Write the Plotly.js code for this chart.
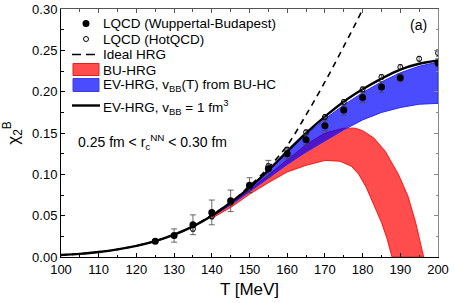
<!DOCTYPE html>
<html>
<head>
<meta charset="utf-8">
<script src="https://cdn.plot.ly/plotly-3.0.1.min.js"></script>
<style>html,body{margin:0;padding:0;background:#fff;}#chart{width:454px;height:303px;}</style>
</head>
<body>
<div id="chart"></div>
<script>
// Lattice QCD, Wuppertal-Budapest (filled)
var wbT = [125,130,135,140,145,150,155,160,165,170,175,180,185,190,200];
var wbChi = [0.019,0.026,0.039,0.054,0.068,0.087,0.107,0.125,0.142,0.159,0.178,0.193,0.206,0.217,0.235];
var wbErr = [0.002,0.008,0.012,0.015,0.013,0.009,0.010,0.006,0.006,0.006,0.006,0.006,0.0065,0.005,0.005];
// Lattice QCD, HotQCD (open)
var hqT = [135,140,145,150,155,160,165,170,175,180,185,190,195,200];
var hqChi = [0.034,0.049,0.066,0.085,0.110,0.130,0.151,0.1695,0.1876,0.203,0.218,0.230,0.240,0.247];
var hqErr = [0.003,0.003,0.003,0.003,0.003,0.003,0.003,0.003,0.003,0.003,0.003,0.003,0.003,0.004];
// Ideal HRG
var idT = [100,105,110,115,120,125,130,135,140,145,150,155,160,165,170,175,180,182];
var idChi = [0.0025,0.0038,0.006,0.0092,0.0135,0.0192,0.027,0.037,0.051,0.066,0.086,0.108,0.135,0.172,0.212,0.255,0.300,0.322];
// EV-HRG, v_BB = 1 fm^3
var evT = [100,105,110,115,120,125,130,135,140,145,150,155,160,165,170,175,180,185,190,195,200];
var evChi = [0.0025,0.0038,0.006,0.0092,0.0135,0.0192,0.027,0.037,0.050,0.066,0.084,0.105,0.128,0.150,0.170,0.188,0.203,0.216,0.227,0.234,0.238];
// EV-HRG, v_BB(T) from BU-HC band
var blueT = [140,145,150,155,160,165,170,175,180,185,190,195,200];
var blueUp = [0.050,0.066,0.084,0.105,0.127,0.148,0.167,0.184,0.199,0.212,0.223,0.231,0.236];
var blueLo = [0.049,0.063,0.079,0.095,0.112,0.127,0.141,0.154,0.166,0.175,0.181,0.185,0.186];
// BU-HRG band
var redUpT = [140,145,150,155,160,165,170,175,178,180,183,186,189.5,192,194,196.2];
var redUp = [0.049,0.064,0.081,0.099,0.118,0.136,0.150,0.156,0.156,0.153,0.144,0.128,0.100,0.074,0.043,0.0];
var redLoT = [140,145,150,155,160,165,170,174,177,179,181,183,185,186.5,187.8];
var redLo = [0.047,0.060,0.076,0.090,0.103,0.111,0.117,0.116,0.110,0.100,0.084,0.064,0.042,0.022,0.0];
// Ticks
var xTicks = [100,110,120,130,140,150,160,170,180,190,200];
var yTicks = [0.00,0.05,0.10,0.15,0.20,0.25,0.30];
var yTickText = ['0.00','0.05','0.10','0.15','0.20','0.25','0.30'];
// Legend labels
var legendLabels = ['LQCD (Wuppertal-Budapest)', 'LQCD (HotQCD)', 'Ideal HRG', 'BU-HRG',
                    'EV-HRG, v<sub>BB</sub>(T) from BU-HC', 'EV-HRG, v<sub>BB</sub> = 1 fm<sup>3</sup>'];

function poly(xa, ya, xb, yb) {
  return {x: xa.concat(xb.slice().reverse()), y: ya.concat(yb.slice().reverse())};
}
var redP = poly(redUpT, redUp, redLoT, redLo);
var blueP = poly(blueT, blueUp, blueT, blueLo);

var W = 454, H = 303, ML = 61, MR = 16, MT = 9, MB = 46;
var PW = W - ML - MR, PH = H - MT - MB;
function px(x) { return (x - ML) / PW; }
function py(y) { return (H - MB - y) / PH; }

var FONT = 'Liberation Sans, Arial, sans-serif';
var RED_FILL = 'rgba(255,0,0,0.7)', BLUE_FILL = 'rgba(0,0,255,0.7)';
var traces = [
  {x: redP.x, y: redP.y, type: 'scatter', mode: 'lines', fill: 'toself',
   fillcolor: RED_FILL, line: {color: 'rgb(255,20,20)', width: 1}, name: legendLabels[3], showlegend: false},
  {x: blueP.x, y: blueP.y, type: 'scatter', mode: 'lines', fill: 'toself',
   fillcolor: BLUE_FILL, line: {color: 'rgb(40,40,255)', width: 1}, name: legendLabels[4], showlegend: false},
  {x: idT, y: idChi, type: 'scatter', mode: 'lines', line: {color: '#000', width: 1.6, dash: '6px,5px', shape: 'spline'},
   name: legendLabels[2], showlegend: false},
  {x: evT, y: evChi, type: 'scatter', mode: 'lines', line: {color: '#000', width: 2.4, shape: 'spline'},
   name: legendLabels[5], showlegend: false},
  {x: hqT, y: hqChi, type: 'scatter', mode: 'markers',
   marker: {symbol: 'circle-open', size: 5, color: '#000', line: {width: 1}},
   error_y: {type: 'data', array: hqErr, color: '#444', thickness: 0.8, width: 2},
   name: legendLabels[1], showlegend: false},
  {x: wbT, y: wbChi, type: 'scatter', mode: 'markers',
   marker: {symbol: 'circle', size: 7, color: '#000'},
   error_y: {type: 'data', array: wbErr, color: '#444', thickness: 0.8, width: 3},
   name: legendLabels[0], showlegend: false},
  {x: [100], y: [-1], xaxis: 'x2', yaxis: 'y2', type: 'scatter', mode: 'markers', showlegend: false,
   hoverinfo: 'skip', marker: {opacity: 0}}
];

// hand-placed legend (swatches + labels)
var rowY = [23.5, 39, 54.5, 70, 86, 106.5];
var shapes = [
  {type: 'circle', xref: 'paper', yref: 'paper', xsizemode: 'pixel', ysizemode: 'pixel',
   xanchor: px(86), yanchor: py(rowY[0]), x0: -3.5, x1: 3.5, y0: -3.5, y1: 3.5,
   fillcolor: '#000', line: {color: '#000', width: 0}},
  {type: 'circle', xref: 'paper', yref: 'paper', xsizemode: 'pixel', ysizemode: 'pixel',
   xanchor: px(86), yanchor: py(rowY[1]), x0: -2.5, x1: 2.5, y0: -2.5, y1: 2.5,
   fillcolor: '#fff', line: {color: '#000', width: 1}},
  {type: 'line', xref: 'paper', yref: 'paper', x0: px(72), x1: px(100), y0: py(rowY[2]), y1: py(rowY[2]),
   line: {color: '#000', width: 1.6, dash: '9px,5px'}},
  {type: 'rect', xref: 'paper', yref: 'paper', x0: px(73), x1: px(99), y0: py(63.5), y1: py(75.5),
   fillcolor: RED_FILL, line: {color: 'rgb(230,30,30)', width: 1}},
  {type: 'rect', xref: 'paper', yref: 'paper', x0: px(73), x1: px(99), y0: py(78.5), y1: py(91.5),
   fillcolor: BLUE_FILL, line: {color: 'rgb(60,60,230)', width: 1}},
  {type: 'line', xref: 'paper', yref: 'paper', x0: px(72), x1: px(100), y0: py(105.5), y1: py(105.5),
   line: {color: '#000', width: 2.4}}
];

var annotations = [
  {xref: 'paper', yref: 'paper', x: px(418.5), y: py(25), text: '(a)', showarrow: false,
   font: {family: FONT, size: 14}, xanchor: 'center', yanchor: 'middle'},
  {xref: 'paper', yref: 'paper', x: px(76), y: py(142), text: '0.25 fm < r<sub>c</sub><sup>NN</sup> < 0.30 fm', showarrow: false,
   font: {family: FONT, size: 14}, xanchor: 'left', yanchor: 'middle'}
];
legendLabels.forEach(function (t, i) {
  annotations.push({xref: 'paper', yref: 'paper', x: px(102), y: py(rowY[i]), text: t, showarrow: false,
    font: {family: FONT, size: 13.5}, xanchor: 'left', yanchor: 'middle', borderpad: 0});
});

var layout = {
  width: W, height: H,
  margin: {l: ML, r: MR, t: MT, b: MB},
  paper_bgcolor: '#fff', plot_bgcolor: '#fff',
  font: {family: FONT, color: '#000', size: 12},
  showlegend: false,
  xaxis: {range: [100, 200], tickvals: xTicks, ticks: 'inside', ticklen: 4, tickcolor: '#000',
          minor: {dtick: 5, ticks: 'inside', ticklen: 2.5, tickcolor: '#000'},
          showline: true, linecolor: '#000', linewidth: 1, showgrid: false, zeroline: false,
          tickfont: {family: FONT, size: 13}, title: {text: 'T [MeV]', font: {family: FONT, size: 17}, standoff: 7}},
  yaxis: {range: [0, 0.3003], tickvals: yTicks, ticktext: yTickText, ticks: 'inside', ticklen: 4, tickcolor: '#000',
          minor: {dtick: 0.025, ticks: 'inside', ticklen: 2.5, tickcolor: '#000'},
          showline: true, linecolor: '#000', linewidth: 1, showgrid: false, zeroline: false,
          tickfont: {family: FONT, size: 13}, title: {text: 'χ<sub>2</sub><sup>B</sup>', font: {family: FONT, size: 17}, standoff: 8}},
  xaxis2: {overlaying: 'x', side: 'top', range: [100, 200], tickvals: xTicks, ticks: 'inside', ticklen: 4, tickcolor: '#555',
           minor: {dtick: 5, ticks: 'inside', ticklen: 2.5, tickcolor: '#555'},
           showticklabels: false, showline: true, linecolor: '#555', showgrid: false, zeroline: false},
  yaxis2: {overlaying: 'y', side: 'right', range: [0, 0.3003], tickvals: yTicks, ticks: 'inside', ticklen: 4, tickcolor: '#888',
           minor: {dtick: 0.025, ticks: 'inside', ticklen: 2.5, tickcolor: '#888'},
           showticklabels: false, showline: true, linecolor: '#888', showgrid: false, zeroline: false},
  shapes: shapes,
  annotations: annotations
};

Plotly.newPlot('chart', traces, layout, {displayModeBar: false, staticPlot: true});
</script>
</body>
</html>
